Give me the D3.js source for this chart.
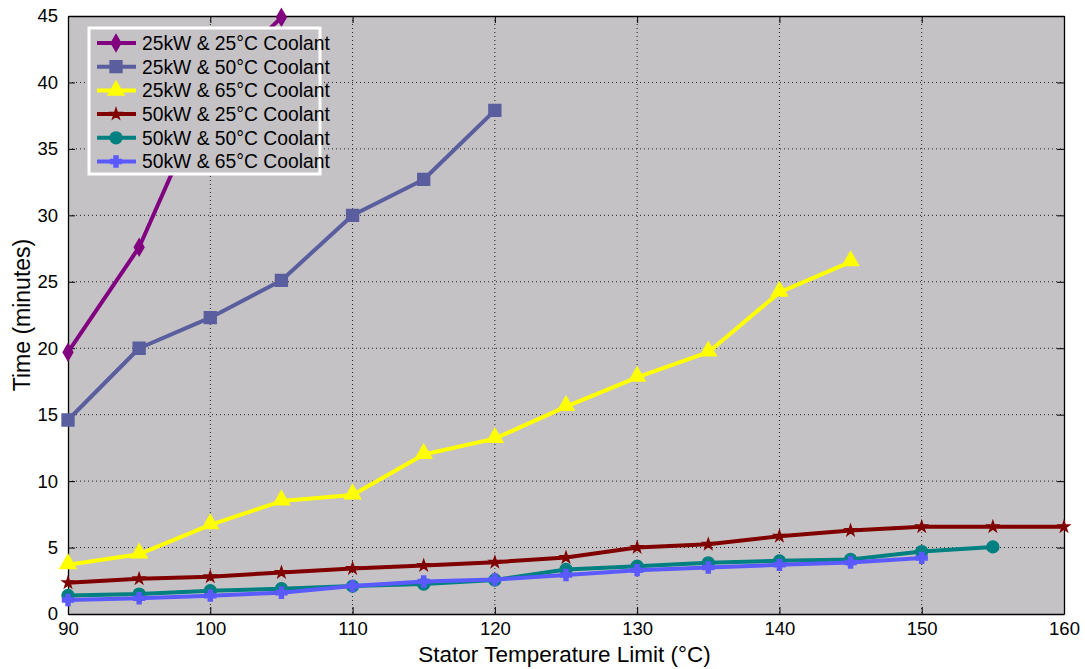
<!DOCTYPE html>
<html><head><meta charset="utf-8">
<script src="https://cdn.jsdelivr.net/npm/d3@7"></script>
<style>
body{margin:0;background:#fff;}
text{font-family:"Liberation Sans",Arial,sans-serif;}
</style></head>
<body><svg id="chart" width="1085" height="669"></svg>
<script>
const xTicks = [90,100,110,120,130,140,150,160];
const yTicks = [0,5,10,15,20,25,30,35,40,45];
const xA = [90,95,100,105];
const yA = [19.7,27.6,39.7,44.9];
const xB = [90,95,100,105,110,115,120];
const yB = [14.6,20.0,22.3,25.1,30.0,32.7,37.9];
const xC = [90,95,100,105,110,115,120,125,130,135,140,145];
const yC = [3.7,4.5,6.7,8.5,8.95,12.0,13.2,15.6,17.8,19.7,24.2,26.5];
const xD = [90,95,100,105,110,115,120,125,130,135,140,145,150,155,160];
const yD = [2.35,2.65,2.8,3.13,3.43,3.65,3.9,4.25,5.0,5.25,5.85,6.28,6.56,6.56,6.56];
const xE = [90,95,100,105,110,115,120,125,130,135,140,145,150,155];
const yE = [1.4,1.5,1.75,1.9,2.1,2.25,2.56,3.35,3.6,3.85,4.0,4.1,4.7,5.05];
const xF = [90,95,100,105,110,115,120,125,130,135,140,145,150];
const yF = [1.05,1.18,1.38,1.6,2.1,2.45,2.6,2.93,3.3,3.5,3.7,3.88,4.22];
const names = ["25kW & 25°C Coolant","25kW & 50°C Coolant","25kW & 65°C Coolant","50kW & 25°C Coolant","50kW & 50°C Coolant","50kW & 65°C Coolant"];
const colors = ["#800080","#5a5e9e","#ffff00","#800000","#008080","#5a5aff"];
const markers = ["diamond","square","triangle","star","circle","plus"];

const series = [[xA,yA],[xB,yB],[xC,yC],[xD,yD],[xE,yE],[xF,yF]];

const L=68,R=1064,T=16,B=614;
const svg=d3.select("#chart");
const x=d3.scaleLinear().domain([90,160]).range([L,R]);
const y=d3.scaleLinear().domain([0,45]).range([B,T]);

svg.append("rect").attr("x",L).attr("y",T).attr("width",R-L).attr("height",B-T).attr("fill","#c4c2c5");

// grid
const g=svg.append("g");
xTicks.slice(1,-1).forEach(t=>g.append("line").attr("x1",x(t)).attr("x2",x(t)).attr("y1",T).attr("y2",B).attr("stroke","#222").attr("stroke-width",1).attr("stroke-dasharray","1,3"));
yTicks.slice(1,-1).forEach(t=>g.append("line").attr("x1",L).attr("x2",R).attr("y1",y(t)).attr("y2",y(t)).attr("stroke","#222").attr("stroke-width",1).attr("stroke-dasharray","1,3"));

// axes with inward ticks
const ax=svg.append("g").attr("transform",`translate(0,${B})`).call(d3.axisBottom(x).tickValues(xTicks).tickSizeInner(-7).tickSizeOuter(0).tickPadding(8));
const ay=svg.append("g").attr("transform",`translate(${L},0)`).call(d3.axisLeft(y).tickValues(yTicks).tickSizeInner(-7).tickSizeOuter(0).tickPadding(10));
const axt=svg.append("g").attr("transform",`translate(0,${T})`).call(d3.axisTop(x).tickValues(xTicks).tickSizeInner(-7).tickSizeOuter(0).tickFormat(""));
const ayr=svg.append("g").attr("transform",`translate(${R},0)`).call(d3.axisRight(y).tickValues(yTicks).tickSizeInner(-7).tickSizeOuter(0).tickFormat(""));
[ax,ay,axt,ayr].forEach(a=>{a.select(".domain").attr("stroke","#000").attr("stroke-width",1.3);a.selectAll(".tick line").attr("stroke","#000");a.selectAll("text").attr("fill","#000").style("font-size","18.5px").style("font-family","'Liberation Sans',Arial,sans-serif");});
ax.selectAll("text").attr("dy","0.71em");

function markerPath(type,size){
  const s={diamond:d3.symbolDiamond,square:d3.symbolSquare,triangle:d3.symbolTriangle,star:d3.symbolStar,circle:d3.symbolCircle,plus:d3.symbolCross}[type];
  return d3.symbol().type(s).size(size)();
}
const sizes={diamond:80,square:140,triangle:110,star:35,circle:110,plus:60};

const line=d3.line().x(d=>x(d[0])).y(d=>y(d[1]));
series.forEach(([xs,ys],i)=>{
  const pts=xs.map((v,j)=>[v,ys[j]]);
  svg.append("path").datum(pts).attr("d",line).attr("fill","none").attr("stroke",colors[i]).attr("stroke-width",4).attr("stroke-linejoin","round");
  svg.append("g").selectAll("path").data(pts).join("path")
    .attr("d",markerPath(markers[i],sizes[markers[i]]))
    .attr("transform",d=>`translate(${x(d[0])},${y(d[1])})${markers[i]==="triangle"?" translate(0,-1)":""}`)
    .attr("fill",colors[i]).attr("stroke",colors[i]).attr("stroke-width",markers[i]==="plus"?2:1.5);
});

// legend
const lg=svg.append("g");
lg.append("rect").attr("x",89).attr("y",28).attr("width",231).attr("height",146).attr("fill","#c4c2c5").attr("stroke","#fff").attr("stroke-width",3);
names.forEach((n,i)=>{
  const yy=43+i*23.7;
  lg.append("line").attr("x1",97).attr("x2",136).attr("y1",yy).attr("y2",yy).attr("stroke",colors[i]).attr("stroke-width",4);
  lg.append("path").attr("d",markerPath(markers[i],sizes[markers[i]])).attr("transform",`translate(116,${yy})`).attr("fill",colors[i]).attr("stroke",colors[i]).attr("stroke-width",markers[i]==="plus"?2:1.5);
  lg.append("text").attr("x",142).attr("y",yy).attr("dy","0.36em").style("font-size","19.3px").attr("fill","#000").text(n);
});

// labels
svg.append("text").attr("x",564.5).attr("y",662).attr("text-anchor","middle").style("font-size","22.5px").text("Stator Temperature Limit (°C)");
svg.append("text").attr("transform",`translate(30,${(T+B)/2}) rotate(-90)`).attr("text-anchor","middle").style("font-size","23px").text("Time (minutes)");
</script></body></html>
